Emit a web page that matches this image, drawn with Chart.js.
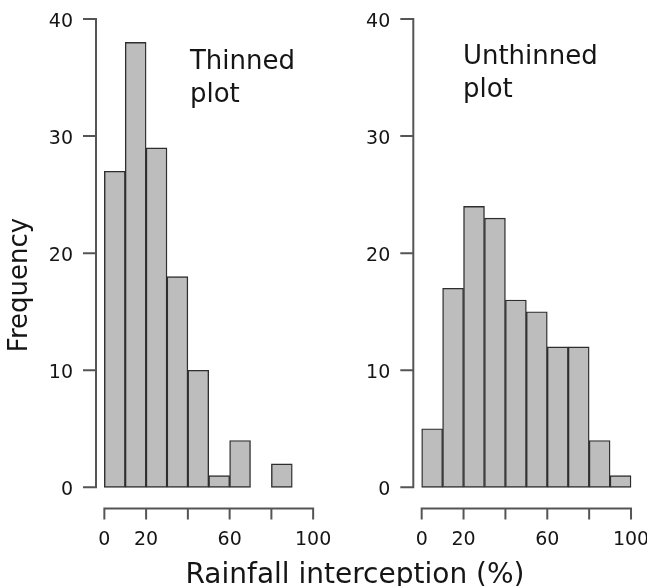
<!DOCTYPE html>
<html>
<head>
<meta charset="utf-8">
<script src="https://cdn.jsdelivr.net/npm/chart.js@4.4.1/dist/chart.umd.min.js"></script>
<style>
    html, body { margin: 0; padding: 0; background: #fff; }
    #wrap { position: relative; width: 647px; height: 586px; overflow: hidden; }
    #wrap canvas { position: absolute; left: 0; top: 0; }
</style>
</head>
<body>
<div id="wrap">
    <canvas id="thinned" width="647" height="586"></canvas>
    <canvas id="unthinned" width="647" height="586"></canvas>
</div>
<script>
// histogram bins: 10 % wide, left edges
var binStarts = [0, 10, 20, 30, 40, 50, 60, 70, 80, 90];
var binWidth = 10;
var thinnedCounts = [27, 38, 29, 18, 10, 1, 4, 0, 2];
var unthinnedCounts = [5, 17, 24, 23, 16, 15, 12, 12, 4, 1];

var yTicks = [0, 10, 20, 30, 40];
var xTicks = [0, 20, 40, 60, 80, 100];
var xTickLabels = ['0', '20', '', '60', '', '100'];

var font = '"DejaVu Sans", Verdana, sans-serif';

var histData = function (counts) {
    var data = [];
    for (var i = 0; i < counts.length; i++) {
        data.push({ x: binStarts[i] + binWidth / 2, y: counts[i] });
    }
    return data;
};

// R-style axes: detached from the plot box, ticks pointing out
var rAxes = {
    id: 'rAxes',
    afterDraw: function (chart, args, opts) {
        var ctx = chart.ctx;
        var xs = chart.scales.x, ys = chart.scales.y;
        var left = chart.chartArea.left, bottom = chart.chartArea.bottom;

        ctx.save();
        ctx.strokeStyle = '#555555';
        ctx.lineWidth = 2;
        ctx.beginPath();
        ctx.moveTo(left, ys.getPixelForValue(yTicks[0]));
        ctx.lineTo(left, ys.getPixelForValue(yTicks[yTicks.length - 1]));
        yTicks.forEach(function (t) {
            var py = ys.getPixelForValue(t);
            ctx.moveTo(left + 1, py);
            ctx.lineTo(left - 13, py);
        });
        ctx.moveTo(xs.getPixelForValue(xTicks[0]), bottom);
        ctx.lineTo(xs.getPixelForValue(xTicks[xTicks.length - 1]), bottom);
        xTicks.forEach(function (t) {
            var px = xs.getPixelForValue(t);
            ctx.moveTo(px, bottom - 1);
            ctx.lineTo(px, bottom + 11);
        });
        ctx.stroke();

        ctx.fillStyle = '#151515';
        ctx.font = '19px ' + font;
        ctx.textAlign = 'right';
        ctx.textBaseline = 'middle';
        yTicks.forEach(function (t) {
            ctx.fillText(String(t), left - 23, ys.getPixelForValue(t) + 3);
        });
        ctx.textAlign = 'center';
        xTicks.forEach(function (t, i) {
            ctx.fillText(xTickLabels[i], xs.getPixelForValue(t), bottom + 32);
        });

        ctx.font = '26px ' + font;
        ctx.textAlign = 'left';
        ctx.textBaseline = 'alphabetic';
        opts.note.forEach(function (line, i) {
            ctx.fillText(line, xs.getPixelForValue(opts.noteX), ys.getPixelForValue(opts.noteY) + i * 33);
        });

        if (opts.titles) {
            ctx.font = '28px ' + font;
            ctx.textAlign = 'center';
            ctx.fillText('Rainfall interception (%)', 355, 583);
            ctx.save();
            ctx.translate(27, 285);
            ctx.rotate(-Math.PI / 2);
            ctx.font = '26px ' + font;
            ctx.fillText('Frequency', 0, 0);
            ctx.restore();
        }
        ctx.restore();
    }
};

var makeHist = function (id, counts, padding, axesOpts) {
    return new Chart(document.getElementById(id), {
        type: 'bar',
        data: {
            datasets: [{
                data: histData(counts),
                backgroundColor: '#bdbdbd',
                borderColor: '#2e2e2e',
                borderWidth: 1.4,
                borderSkipped: false,
                barPercentage: 1,
                categoryPercentage: 1
            }]
        },
        options: {
            responsive: false,
            animation: false,
            layout: { padding: padding },
            plugins: {
                legend: { display: false },
                tooltip: { enabled: false },
                rAxes: axesOpts
            },
            scales: {
                x: {
                    type: 'linear', min: -4, max: 104, display: false, offset: false,
                    ticks: { includeBounds: false, stepSize: 20 }
                },
                y: {
                    min: -1.8, max: 41.6, display: false,
                    ticks: { includeBounds: false, stepSize: 10 }
                }
            }
        },
        plugins: [rAxes]
    });
};

makeHist('thinned', thinnedCounts,
    { left: 96, right: 325.5, top: 0.3, bottom: 77.6 },
    { note: ['Thinned', 'plot'], noteX: 41, noteY: 35.7, titles: true });

makeHist('unthinned', unthinnedCounts,
    { left: 413.3, right: 7.6, top: 0.3, bottom: 77.6 },
    { note: ['Unthinned', 'plot'], noteX: 19.7, noteY: 36.15, titles: false });
</script>
</body>
</html>
